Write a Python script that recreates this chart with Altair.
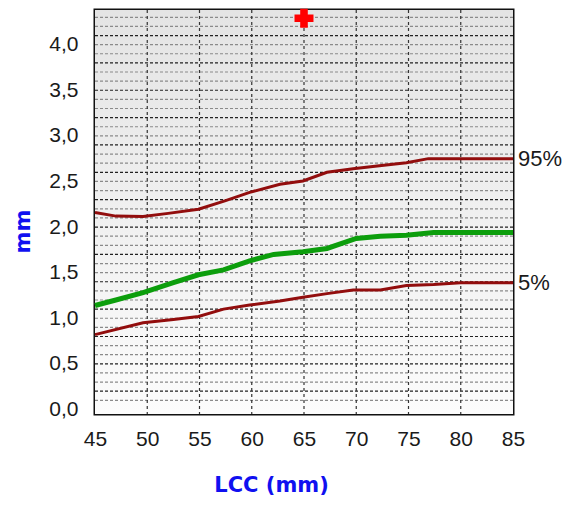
import altair as alt
import pandas as pd

# ---- data ----
p95_x = [45, 47, 49.6, 52, 54.9, 57.5, 59.8, 62.7, 64.9, 67.2, 69.7, 72, 74.8, 76.9, 80, 85]
p95_y = [2.16, 2.12, 2.115, 2.15, 2.195, 2.29, 2.38, 2.47, 2.505, 2.6, 2.64, 2.67, 2.705, 2.75, 2.75, 2.75]

mid_x = [45, 47, 49.6, 52.5, 54.9, 57.3, 59.8, 62.1, 64.9, 67.2, 70, 72.3, 74.8, 77.4, 80, 85]
mid_y = [1.14, 1.2, 1.28, 1.39, 1.477, 1.53, 1.63, 1.70, 1.73, 1.765, 1.875, 1.90, 1.91, 1.94, 1.94, 1.94]

p5_x = [45, 49.6, 52.5, 54.9, 57.3, 59.8, 62.7, 64.9, 67.2, 69.7, 72.3, 74.8, 77.4, 80, 85]
p5_y = [0.82, 0.95, 0.985, 1.02, 1.10, 1.145, 1.19, 1.23, 1.27, 1.31, 1.31, 1.36, 1.37, 1.39, 1.39]

marker_x = [65]
marker_y = [4.29]

end_labels = ["95%", "5%"]
end_x = [85, 85]
end_y = [2.75, 1.39]

x_ticks = [45, 50, 55, 60, 65, 70, 75, 80, 85]
y_ticks = [0.0, 0.5, 1.0, 1.5, 2.0, 2.5, 3.0, 3.5, 4.0]
v_grid = [50, 55, 60, 65, 70, 75, 80]
h_grid = [round(i * 0.1, 1) for i in range(1, 44)]

W, H = 418, 404
FONT = "Liberation Sans"
TFONT = "DejaVu Sans"
xs = alt.Scale(domain=[45, 85], nice=False, zero=False)
ys = alt.Scale(domain=[-0.05, 4.38], nice=False, zero=False)

ax_x = alt.Axis(
    values=x_ticks, title="LCC (mm)", domain=False, ticks=False, grid=False,
    labelFont=FONT, labelFontSize=21, labelColor="#1a1a1a", labelPadding=14,
    labelFlush=False,
    titleFont=TFONT, titleFontSize=21, titleFontWeight="bold", titleColor="#1010f0",
    titleX=176, titleY=71, titleBaseline="middle", titleAlign="center",
)
ax_y = alt.Axis(
    values=y_ticks, title="mm", domain=False, ticks=False, grid=False,
    labelExpr="replace(format(datum.value, '.1f'), '.', ',')",
    labelFont=FONT, labelFontSize=21, labelColor="#1a1a1a", labelPadding=17,
    labelFlush=False,
    titleFont=TFONT, titleFontSize=21, titleFontWeight="bold", titleColor="#1010f0",
    titleX=-72, titleY=221, titleAngle=-90, titleBaseline="middle", titleAlign="center",
)


def X(f="x:Q"):
    return alt.X(f, scale=xs, axis=ax_x, title="LCC (mm)")


def Y(f="y:Q"):
    return alt.Y(f, scale=ys, axis=ax_y, title="mm")


bg = alt.Chart(pd.DataFrame({"a": [0]})).mark_rect(
    fill=alt.Gradient(
        gradient="linear",
        stops=[alt.GradientStop(color="#e4e4e4", offset=0),
               alt.GradientStop(color="#fcfcfc", offset=1)],
        x1=0, x2=0, y1=0, y2=1,
    )
).encode(x=alt.value(0), x2=alt.value(W), y=alt.value(0), y2=alt.value(H))

hdf = pd.DataFrame({"y": h_grid})
hdf["dark"] = [(i % 3 == 1) for i in range(len(h_grid))]
hgrid = alt.Chart(hdf).mark_rule(strokeWidth=1.2, strokeDash=[3, 2]).encode(
    y=Y(),
    color=alt.condition("datum.dark", alt.value("#222222"), alt.value("#8a8a8a")),
)

vgrid = alt.Chart(pd.DataFrame({"x": v_grid})).mark_rule(
    strokeWidth=1.2, strokeDash=[3, 3], color="#333333"
).encode(x=X())

lines_df = pd.concat([
    pd.DataFrame({"x": p95_x, "y": p95_y, "s": "p95"}),
    pd.DataFrame({"x": p5_x, "y": p5_y, "s": "p5"}),
])

red_lines = alt.Chart(lines_df).mark_line(color="#920d0d", strokeWidth=3).encode(
    x=X(), y=Y(), detail="s:N",
)

green_line = alt.Chart(pd.DataFrame({"x": mid_x, "y": mid_y})).mark_line(
    color="#0c9e0c", strokeWidth=5
).encode(x=X(), y=Y())

marker = alt.Chart(pd.DataFrame({"x": marker_x, "y": marker_y})).mark_point(
    shape="cross", filled=True, color="#ff0000", size=360, opacity=1
).encode(x=X(), y=Y())

labels = alt.Chart(pd.DataFrame({"x": end_x, "y": end_y, "t": end_labels})).mark_text(
    align="left", baseline="middle", dx=5, font=FONT, fontSize=22, color="#1a1a1a"
).encode(x=X(), y=Y(), text="t:N")

chart = alt.layer(bg, hgrid, vgrid, green_line, red_lines, marker, labels).properties(
    width=W, height=H,
    autosize=alt.AutoSizeParams(type="none"),
    padding={"left": 87, "top": 2, "right": 50, "bottom": 83},
).configure_view(stroke="#111111", strokeWidth=3)

chart.save("out.html", embed_options={"renderer": "svg", "actions": False})
